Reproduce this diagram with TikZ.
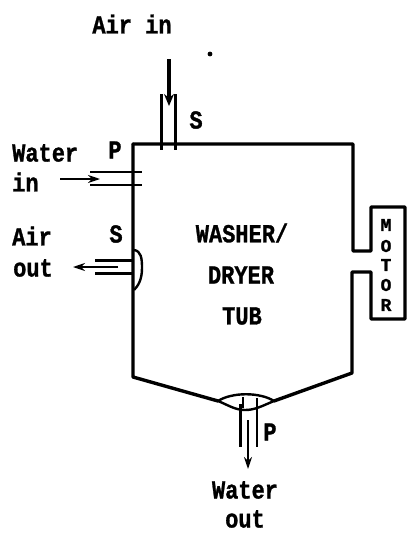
\documentclass[tikz,border=0pt]{standalone}
\usepackage{fontspec}
\setmonofont[BoldFont={Liberation Mono Bold},BoldFeatures={FakeBold=1.2}]{Liberation Mono}
\usetikzlibrary{arrows.meta}
\tikzset{
  wall/.style={line width=3.4pt,line join=round,line cap=round},
  pipe/.style={line width=3pt},
  thinpipe/.style={line width=2pt},
  flow/.style={line width=1.6pt,-{Stealth[length=12pt,width=8pt]}},
  flowthick/.style={line width=3.6pt,-{Stealth[length=12pt,width=10pt]}},
  lab/.style={inner sep=0pt,font=\ttfamily\bfseries\fontsize{22}{22}\selectfont,yscale=1.18},
  mlab/.style={inner sep=0pt,font=\ttfamily\bfseries\fontsize{18}{18}\selectfont}
}
\begin{document}
\begin{tikzpicture}[x=1pt,y=-1pt]
\useasboundingbox (0,0) rectangle (407,533);
% tub outline
\draw[wall] (133,144) -- (353,144) -- (353,251) -- (371,251) -- (371,207) -- (405,207)
  -- (405,319) -- (371,319) -- (371,272) -- (352,272) -- (352,373) -- (274,401);
\draw[wall] (133,144) -- (133,377) -- (218,401);
% drain lens
\draw[line width=2.4pt,fill=none] (218,401) .. controls (232,392) and (260,392) .. (274,401)
  .. controls (262,406) and (255,410) .. (245,410) .. controls (235,410) and (228,405) .. (218,401);
% air in
\coordinate (aiA) at (161,94); \coordinate (aiB) at (161,150);
\coordinate (aiC) at (175,94); \coordinate (aiD) at (175,150);
\draw[pipe] (aiA) -- (aiB); \draw[pipe] (aiC) -- (aiD);
\coordinate (aiS) at (169,59); \coordinate (aiE) at (169,106);
\draw[flowthick] (aiS) -- (aiE);
% water in
\coordinate (wiA) at (90,172); \coordinate (wiB) at (142,172);
\coordinate (wiC) at (90,185); \coordinate (wiD) at (142,185);
\draw[thinpipe] (wiA) -- (wiB); \draw[thinpipe] (wiC) -- (wiD);
\coordinate (wiS) at (60,179); \coordinate (wiE) at (100,179);
\draw[flow] (wiS) -- (wiE);
% air out bump
\draw[line width=2.4pt] (134,250) .. controls (141,251) and (142,258) .. (142,268)
  .. controls (142,280) and (138,286) .. (134,290);
\coordinate (aoA) at (95,260); \coordinate (aoB) at (134,260);
\coordinate (aoC) at (95,273); \coordinate (aoD) at (134,273);
\draw[pipe] (aoA) -- (aoB); \draw[pipe] (aoC) -- (aoD);
\coordinate (aoS) at (118,267); \coordinate (aoE) at (73,267);
\draw[flow] (aoS) -- (aoE);
% water out
\coordinate (woA) at (240,404); \coordinate (woB) at (240,447);
\coordinate (woC) at (257,398); \coordinate (woD) at (257,447);
\draw[pipe] (woA) -- (woB); \draw[thinpipe] (woC) -- (woD);
\coordinate (woS) at (248,420); \coordinate (woE) at (248,469);
\draw[flow] (woS) -- (woE);
\coordinate (woT) at (243,397); \coordinate (woU) at (243,408);
\draw[line width=1.4pt] (woT) -- (woU);
% speck
\fill (210,54) circle (2.4);
% labels
\node[lab] (airin) at (132,24) {Air in};
\node[lab] (s1) at (196,120) {S};
\node[lab,anchor=west] (water) at (12,153) {Water};
\node[lab,anchor=west] (in) at (12,182) {in};
\node[lab] (p1) at (115,150) {P};
\node[lab,anchor=west] (air) at (12,236) {Air};
\node[lab,anchor=west] (out) at (13,268) {out};
\node[lab] (s2) at (116,234) {S};
\node[lab] (washer) at (242,233) {WASHER/};
\node[lab] (dryer) at (241,275) {DRYER};
\node[lab] (tub) at (242,316) {TUB};
\node[mlab] (m1) at (386,225) {M};
\node[mlab] (m2) at (386,246) {O};
\node[mlab] (m3) at (386,265) {T};
\node[mlab] (m4) at (386,285) {O};
\node[mlab] (m5) at (386,305) {R};
\node[lab] (p2) at (270,432) {P};
\node[lab] (waterout) at (245,490) {Water};
\node[lab] (wout) at (245,519) {out};
\end{tikzpicture}
\end{document}
